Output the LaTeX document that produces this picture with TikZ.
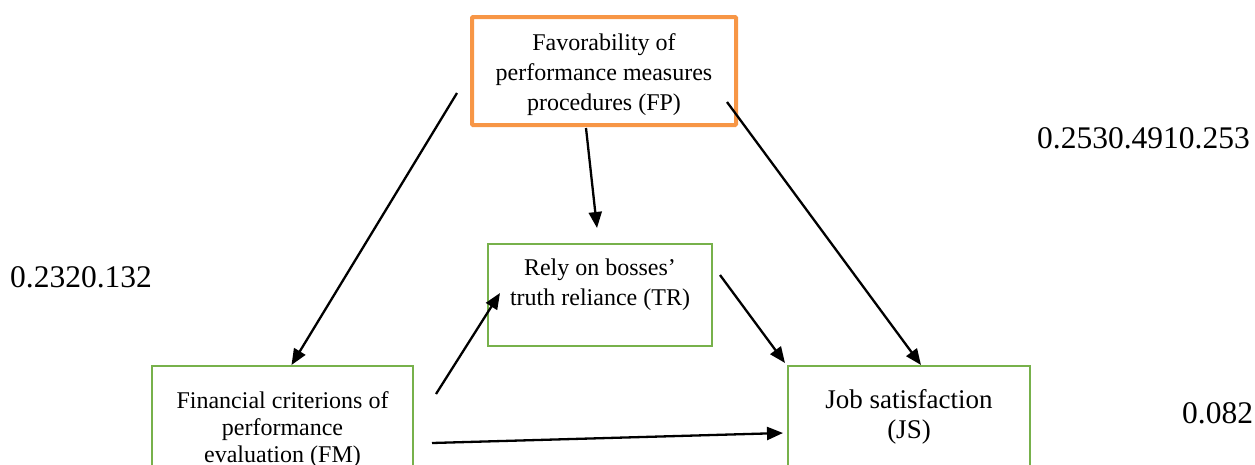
\documentclass[tikz,border=0pt]{standalone}
\usepackage{fontspec}
\setmainfont{Liberation Serif}
\usetikzlibrary{arrows.meta}
\definecolor{fporange}{HTML}{F79646}
\definecolor{boxgreen}{HTML}{77B14B}
\tikzset{
  orbox/.style={draw=fporange, line width=4pt, rounded corners=1pt, inner sep=0pt},
  grbox/.style={draw=boxgreen, line width=2pt, inner sep=0pt},
  boxtext/.style={anchor=north, inner sep=0pt, align=center, font=\fontsize{24}{30}\selectfont},
  numtext/.style={anchor=base west, inner sep=0pt, font=\fontsize{31.5}{36}\selectfont},
  arr/.style={line width=2.3pt, -{Triangle[length=16pt,width=13pt]}}
}
\begin{document}
\begin{tikzpicture}[x=1pt,y=-1pt]
\useasboundingbox (0,0) rectangle (1255,464);
\clip (0,0) rectangle (1255,464);
% boxes
\node[orbox, minimum width=264pt, minimum height=108pt] (FP) at (604,71) {};
\node[grbox, minimum width=224pt, minimum height=102pt] (TR) at (600,295) {};
\node[grbox, minimum width=261pt, minimum height=134pt] (FM) at (282.5,433) {};
\node[grbox, minimum width=242pt, minimum height=134pt] (JS) at (909,433) {};
% texts
\node[boxtext] (FPt) at (604,33.5) {Favorability of\\performance measures\\procedures (FP)};
\node[boxtext] (TRt) at (600,258.5) {Rely on bosses’\\truth reliance (TR)};
\node[boxtext, font=\fontsize{24}{27}\selectfont] (FMt) at (282.5,391.5) {Financial criterions of\\performance\\evaluation (FM)};
\node[boxtext, font=\fontsize{27}{30}\selectfont] (JSt) at (909,389.5) {Job satisfaction\\(JS)};
% numbers
\node[numtext] (n1) at (10,287) {0.2320.132};
\node[numtext] (n2) at (1037,148) {0.2530.4910.253};
\node[numtext] (n3) at (1182,423) {0.082};
% free ends
\coordinate (s1) at (457,93);
\coordinate (s2) at (586,128);
\coordinate (e2) at (597,228);
\coordinate (s3) at (727,102);
\coordinate (s4) at (436,394);
\coordinate (e4) at (500,293);
\coordinate (s5) at (720,275);
\coordinate (s6) at (432,443);
% connectors
\draw[arr] (s1) -- ([xshift=9pt]FM.north);
\draw[arr] (s2) -- (e2);
\draw[arr] (s3) -- ([xshift=12pt]JS.north);
\draw[arr] (s4) -- (e4);
\draw[arr] (s5) -- ([xshift=-2pt,yshift=2pt]JS.north west);
\draw[arr] (s6) -- ([xshift=-4pt]JS.west |- 0,433);
\end{tikzpicture}
\end{document}
